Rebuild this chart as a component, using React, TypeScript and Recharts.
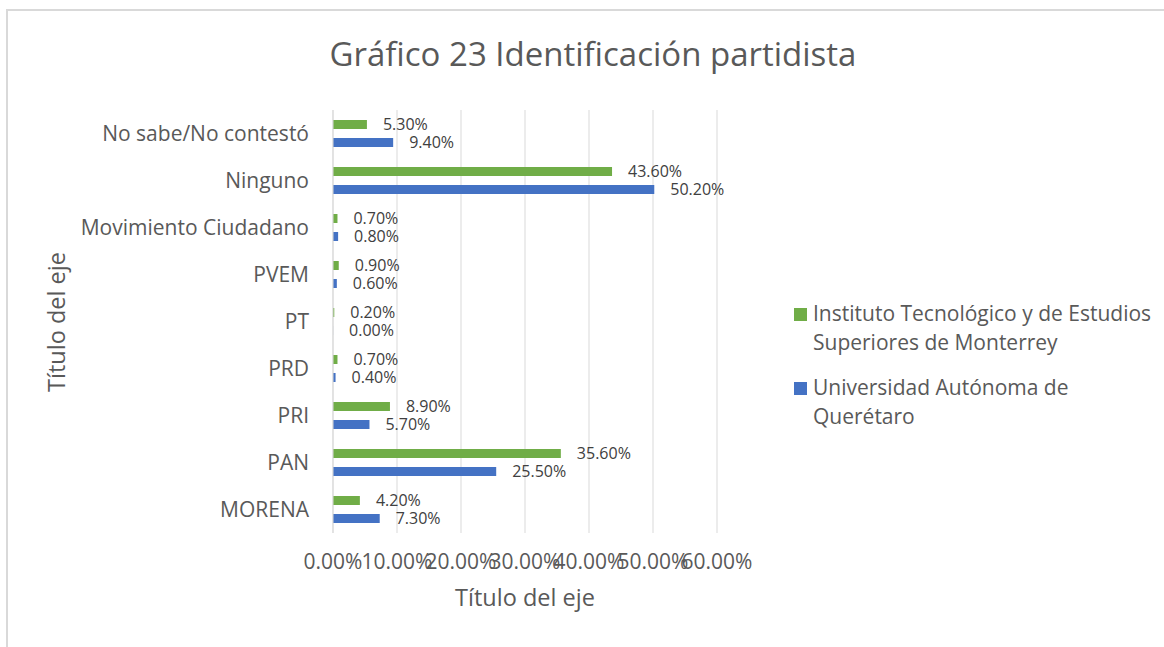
import React from 'react'
import { BarChart, Bar, XAxis, YAxis, CartesianGrid, Legend, LabelList } from 'recharts'

const categories = [
  'No sabe/No contestó',
  'Ninguno',
  'Movimiento Ciudadano',
  'PVEM',
  'PT',
  'PRD',
  'PRI',
  'PAN',
  'MORENA',
]
const itesm = [0.053, 0.436, 0.007, 0.009, 0.002, 0.007, 0.089, 0.356, 0.042]
const uaq = [0.094, 0.502, 0.008, 0.006, 0.0, 0.004, 0.057, 0.255, 0.073]
const xTicks = [0, 0.1, 0.2, 0.3, 0.4, 0.5, 0.6]

const series = [
  { key: 'itesm', name: 'Instituto Tecnológico y de Estudios Superiores de Monterrey', color: '#70ad47' },
  { key: 'uaq', name: 'Universidad Autónoma de Querétaro', color: '#4472c4' },
]

const data = categories.map((name, i) => ({ name, itesm: itesm[i], uaq: uaq[i] }))

const FONT = '"Open Sans", sans-serif'
const pct = (v: number) => `${(v * 100).toFixed(2)}%`

// zero values still need their label, so give them an invisible sliver
const zeroSliver = (v: any) => (Number(v) === 0 ? 0.05 : 0)

function LegendBox() {
  return (
    <div style={{ fontFamily: FONT, fontSize: 21, color: '#595959', lineHeight: '29px' }}>
      {series.map((s, i) => (
        <div key={s.key} style={{ display: 'flex', alignItems: 'flex-start', marginTop: i ? 16 : 0 }}>
          <span style={{ width: 13, height: 13, background: s.color, marginTop: 9, marginRight: 6, flex: 'none' }} />
          <span style={{ width: 350 }}>{s.name}</span>
        </div>
      ))}
    </div>
  )
}

const titleStyle = (size: number): React.CSSProperties => ({
  position: 'absolute',
  whiteSpace: 'nowrap',
  fontFamily: FONT,
  fontSize: size,
  lineHeight: `${size}px`,
  color: '#595959',
})

export default function App() {
  return (
    <div style={{ position: 'relative', width: 1164, height: 647, overflow: 'hidden', background: '#fff' }}>
      <style>{'body{margin:0}'}</style>
      <div
        style={{
          position: 'absolute',
          left: 6,
          top: 9,
          width: 1200,
          height: 700,
          borderTop: '2px solid #d9d9d9',
          borderLeft: '2px solid #d9d9d9',
        }}
      />
      <BarChart
        width={1164}
        height={647}
        data={data}
        layout="vertical"
        margin={{ top: 110, right: 447, bottom: 74, left: 0 }}
        barSize={9}
        barGap={9}
      >
        <CartesianGrid horizontal={false} stroke="#d9d9d9" />
        <XAxis
          type="number"
          domain={[0, 0.6]}
          ticks={xTicks}
          tickFormatter={pct}
          axisLine={false}
          tickLine={false}
          tickSize={0}
          tickMargin={21}
          height={40}
          interval={0}
          tick={{ fontSize: 21, fill: '#595959', fontFamily: FONT }}
        />
        <YAxis
          type="category"
          dataKey="name"
          width={333}
          axisLine={{ stroke: '#d9d9d9' }}
          tickLine={false}
          tickSize={0}
          tickMargin={24}
          interval={0}
          tick={{ fontSize: 21, fill: '#595959', fontFamily: FONT }}
        />
        <Legend
          layout="horizontal"
          align="center"
          verticalAlign="middle"
          wrapperStyle={{ left: 794, top: 299, width: 370 }}
          content={() => <LegendBox />}
        />
        {series.map((s) => (
          <Bar
            key={s.key}
            dataKey={s.key}
            name={s.name}
            fill={s.color}
            minPointSize={zeroSliver}
            isAnimationActive={false}
          >
            <LabelList
              dataKey={s.key}
              position="right"
              offset={16}
              formatter={(v: any) => pct(Number(v))}
              style={{ fontSize: 16, fill: '#404040', fontFamily: FONT }}
            />
          </Bar>
        ))}
      </BarChart>
      <div style={{ ...titleStyle(33), left: 593, top: 53, transform: 'translate(-50%, -50%)' }}>
        Gráfico 23 Identificación partidista
      </div>
      <div style={{ ...titleStyle(23.5), left: 525, top: 598, transform: 'translate(-50%, -50%)' }}>
        Título del eje
      </div>
      <div style={{ ...titleStyle(23.5), left: 57, top: 322, transform: 'translate(-50%, -50%) rotate(-90deg)' }}>
        Título del eje
      </div>
    </div>
  )
}
